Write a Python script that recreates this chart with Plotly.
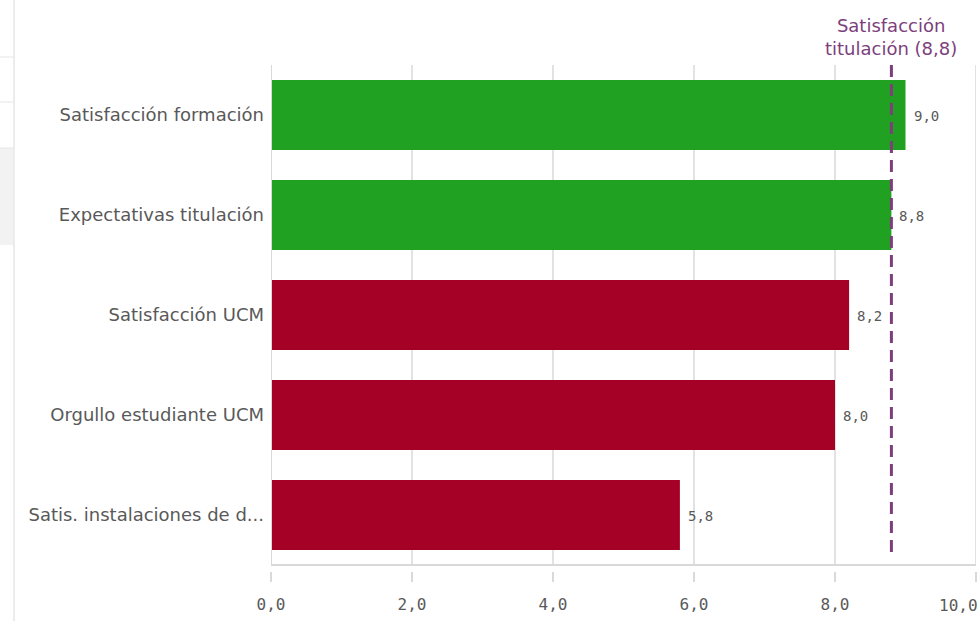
import plotly.graph_objects as go

categories = ["Satisfacción formación", "Expectativas titulación", "Satisfacción UCM",
              "Orgullo estudiante UCM", "Satis. instalaciones de d..."]
values = [9.0, 8.8, 8.2, 8.0, 5.8]
value_labels = ["9,0", "8,8", "8,2", "8,0", "5,8"]
reference_value = 8.8
reference_label = "Satisfacción<br>titulación (8,8)"
tick_vals = [0, 2, 4, 6, 8, 10]
tick_text = ["0,0", "2,0", "4,0", "6,0", "8,0", "10,0"]

GREEN = "#21a121"
RED = "#a50026"
PURPLE = "#7d3f7c"
GRAY_TXT = "#595959"
GRID = "#d9d9d9"
LABEL_FONT = "DejaVu Sans"
MONO = "DejaVu Sans Mono"

colors = [GREEN if v >= reference_value else RED for v in values]
idx = list(range(len(categories)))

fig = go.Figure()
fig.add_trace(go.Bar(
    x=values, y=idx, orientation="h", marker=dict(color=colors, line=dict(width=0)),
    width=0.7, hoverinfo="x+y",
))

shapes = []
for t in tick_vals[1:]:
    shapes.append(dict(type="line", xref="x", yref="y", x0=t, x1=t, y0=-0.5, y1=4.5,
                       line=dict(color=GRID, width=1.5), layer="below"))
shapes.append(dict(type="line", xref="x", yref="y", x0=0, x1=0, y0=-0.5, y1=4.5,
                   line=dict(color=GRID, width=2), layer="above"))
shapes.append(dict(type="line", xref="x", yref="y", x0=0, x1=10, y0=4.5, y1=4.5,
                   line=dict(color=GRID, width=2), layer="above"))
shapes.append(dict(type="line", xref="x", yref="y", x0=reference_value, x1=reference_value,
                   y0=-0.5, y1=4.43, line=dict(color=PURPLE, width=3, dash="12px,7px"),
                   layer="above"))
# left UI decorations (paper coords: plot area is 705 x 506 px)
PW, PH = 705.0, 506.0
def px_x(p):
    return (p - 271) / PW
def px_y(p):
    return (571 - p) / PH
shapes.append(dict(type="rect", xref="paper", yref="paper", x0=px_x(0), x1=px_x(13),
                   y0=px_y(245), y1=px_y(148), fillcolor="#f2f2f2",
                   line=dict(width=0), layer="below"))
for yy in (57, 102, 148):
    shapes.append(dict(type="line", xref="paper", yref="paper", x0=px_x(0), x1=px_x(13),
                       y0=px_y(yy), y1=px_y(yy), line=dict(color="#e6e6e6", width=1)))
shapes.append(dict(type="line", xref="paper", yref="paper", x0=px_x(14), x1=px_x(14),
                   y0=px_y(621), y1=px_y(0), line=dict(color="#e6e6e6", width=1.5)))

annotations = []
for v, lab, i in zip(values, value_labels, idx):
    annotations.append(dict(x=v, y=i, xref="x", yref="y", text=lab, showarrow=False,
                            xanchor="left", xshift=6, yshift=-1,
                            font=dict(family=MONO, size=14, color=GRAY_TXT)))
annotations.append(dict(x=reference_value, y=-0.5, xref="x", yref="y", text=reference_label,
                        showarrow=False, xanchor="center", yanchor="bottom", yshift=4,
                        font=dict(family=LABEL_FONT, size=18, color=PURPLE)))
# last tick label sits flush with the right edge (as in the reference)
annotations.append(dict(x=tick_vals[-1], y=px_y(605), xref="x", yref="paper",
                        text=tick_text[-1], showarrow=False, xanchor="right",
                        yanchor="middle", xshift=4,
                        font=dict(family=MONO, size=16, color=GRAY_TXT)))
axis_text = tick_text[:-1] + [""]

fig.update_layout(
    width=978, height=621,
    margin=dict(l=271, r=2, t=65, b=50, autoexpand=False),
    plot_bgcolor="white", paper_bgcolor="white",
    showlegend=False, bargap=0.3,
    shapes=shapes, annotations=annotations,
    xaxis=dict(range=[0, 10], tickvals=tick_vals, ticktext=axis_text, showgrid=False,
               zeroline=False, showline=False, ticks="outside", ticklen=10,
               tickcolor=GRID, tickwidth=2, automargin=False,
               ticklabeloverflow="allow", ticklabelstandoff=9,
               tickfont=dict(family=MONO, size=16, color=GRAY_TXT)),
    yaxis=dict(range=[4.56, -0.5], tickvals=idx, ticktext=categories, showgrid=False,
               zeroline=False, showline=False, ticks="", ticklabelstandoff=6,
               automargin=False,
               tickfont=dict(family=LABEL_FONT, size=18, color=GRAY_TXT)),
)

fig.write_html("out.html", config={"displayModeBar": False},
               post_script="document.body.style.margin='0';")
